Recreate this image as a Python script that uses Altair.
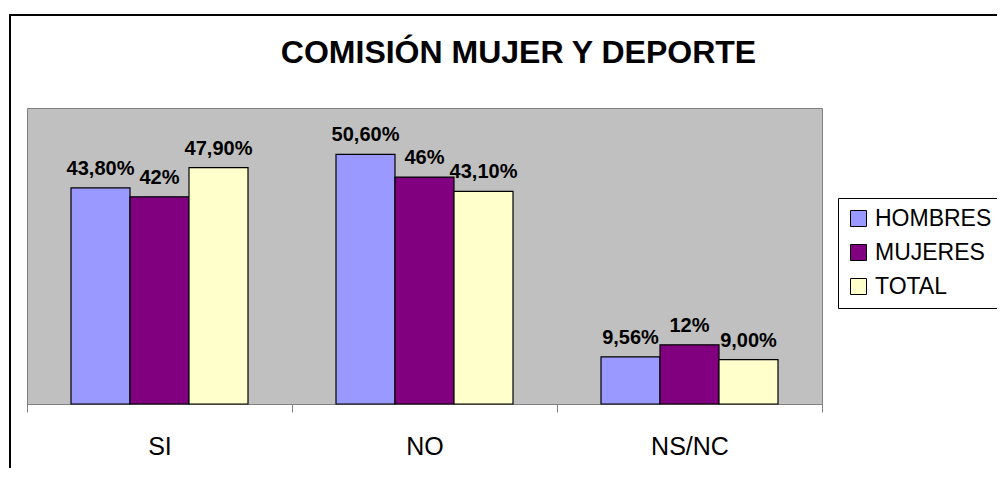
import altair as alt
import pandas as pd

categories = ["SI", "NO", "NS/NC"]
series = ["HOMBRES", "MUJERES", "TOTAL"]
colors = ["#9999FF", "#800080", "#FFFFCC"]
hombres = [43.8, 50.6, 9.56]
mujeres = [42.0, 46.0, 12.0]
total = [47.9, 43.1, 9.0]
labels_h = ["43,80%", "50,60%", "9,56%"]
labels_m = ["42%", "46%", "12%"]
labels_t = ["47,90%", "43,10%", "9,00%"]

rows = []
for s, vals, labs in zip(series, [hombres, mujeres, total], [labels_h, labels_m, labels_t]):
    for c, v, l in zip(categories, vals, labs):
        rows.append({"cat": c, "serie": s, "value": v, "label": l})
df = pd.DataFrame(rows)

FONT = "Liberation Sans"

x_enc = alt.X(
    "cat:N",
    sort=categories,
    scale=alt.Scale(domain=categories, paddingInner=0, paddingOuter=0),
    axis=alt.Axis(
        title=None,
        tickBand="extent",
        tickSize=8,
        tickColor="#808080",
        domainColor="#808080",
        labelFontSize=25,
        labelFont=FONT,
        labelColor="black",
        labelAngle=0,
        labelBaseline="alphabetic",
        labelPadding=42,
        grid=False,
    ),
)
xo_enc = alt.XOffset(
    "serie:N",
    sort=series,
    scale=alt.Scale(domain=series, paddingInner=0, paddingOuter=0.7458),
)
y_enc = alt.Y("value:Q", scale=alt.Scale(domain=[0, 60], nice=False), axis=None)

base = alt.Chart(df)

bars = base.mark_bar(stroke="black", strokeWidth=1.2).encode(
    x=x_enc,
    xOffset=xo_enc,
    y=y_enc,
    color=alt.Color(
        "serie:N",
        sort=series,
        scale=alt.Scale(domain=series, range=colors),
        legend=alt.Legend(
            title=None,
            orient="none",
            legendX=811,
            legendY=90,
            symbolType="square",
            symbolSize=256,
            symbolStrokeColor="black",
            symbolStrokeWidth=1,
            labelFontSize=23,
            labelFont=FONT,
            labelColor="black",
            labelOffset=5,
            padding=9,
            rowPadding=10,
            strokeColor="black",
            fillColor="white",
        ),
    ),
)

texts = base.mark_text(
    fontSize=20, fontWeight="bold", font=FONT, baseline="alphabetic", dy=-13, color="black"
).encode(x=x_enc, xOffset=xo_enc, y=y_enc, text="label:N")

border = alt.Chart(pd.DataFrame({"b": [0]})).mark_rect(
    fillOpacity=0, stroke="black", strokeWidth=2
).encode(
    x=alt.value(-17), y=alt.value(-93), x2=alt.value(1300), y2=alt.value(1000)
)

chart = (
    alt.layer(border, bars, texts)
    .properties(
        width=795,
        height=296,
        autosize=alt.AutoSizeParams(type="none"),
        padding={"left": 19, "top": 100, "right": 175, "bottom": 64},
        title=alt.TitleParams(
            "COMISIÓN MUJER Y DEPORTE",
            font=FONT,
            fontSize=32,
            fontWeight="bold",
            color="black",
            anchor="middle",
            frame="group",
            dx=94,
            baseline="alphabetic",
            offset=-81,
        ),
    )
    .configure(background="white")
    .configure_view(fill="#C0C0C0", stroke="#808080", strokeWidth=1)
)

chart.save("out.html", embed_options={"renderer": "svg", "actions": False})
